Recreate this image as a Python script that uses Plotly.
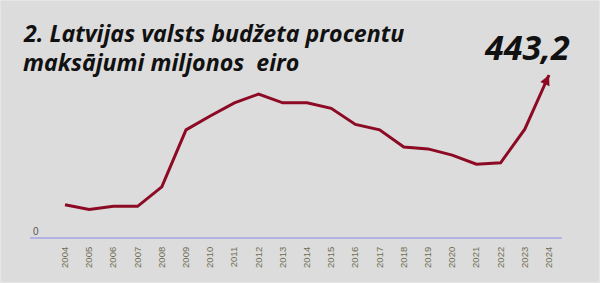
import plotly.graph_objects as go

years = list(range(2004, 2025))
values = [88, 75, 84, 84, 137, 293, 331, 367, 391, 367, 367, 352, 308, 293, 246, 241, 224, 199, 203, 295, 443.2]
tick_labels = [str(y) for y in years]
title_line1 = "2. Latvijas valsts budžeta procentu"
title_line2 = "maksājumi miljonos  eiro"
last_label = "443,2"

line_color = "#8c0a24"
bg = "#dcdcdc"
W, H = 600, 283
ML, MR, MT, MB = 30, 38, 0, 46

fig = go.Figure()
fig.add_trace(go.Scatter(x=years, y=values, mode="lines",
                         line=dict(color=line_color, width=3), hoverinfo="skip"))

# arrowhead at the final point, along the last segment
fig.add_annotation(x=years[-1], y=values[-1], ax=years[-1] - 0.15,
                   ay=values[-1] - (values[-1] - values[-2]) * 0.15,
                   axref="x", ayref="y", xref="x", yref="y", text="",
                   showarrow=True, arrowhead=2, arrowsize=0.8, arrowwidth=2.5,
                   arrowcolor=line_color, standoff=0)

def px(xp, yp):
    return dict(xref="paper", yref="paper", x=(xp - ML) / (W - ML - MR), y=(H - MB - yp) / (H - MB - MT))

font_t = dict(family="Open Sans", size=23.2, color="#111111", weight=700, style="italic")
fig.add_annotation(**px(21, 33), text=title_line1, showarrow=False, xanchor="left", yanchor="middle",
                   font=font_t)
fig.add_annotation(**px(21, 62), text=title_line2, showarrow=False, xanchor="left", yanchor="middle",
                   font=font_t)
fig.add_annotation(**px(572, 47), text=last_label, showarrow=False, xanchor="right", yanchor="middle",
                   font=dict(family="Open Sans", size=34, color="#111111", weight=700, style="italic"))
fig.add_annotation(x=2002.6, y=0, xref="x", yref="y", text="0", showarrow=False,
                   xanchor="left", yanchor="bottom", yshift=-2,
                   font=dict(family="Liberation Sans", size=10, color="#555555"))

fig.update_layout(
    width=W, height=H, margin=dict(l=ML, r=MR, t=MT, b=MB),
    paper_bgcolor=bg, plot_bgcolor=bg, showlegend=False,
    xaxis=dict(range=[2002.554, 2024.537], tickmode="array", tickvals=years, ticktext=tick_labels,
               tickangle=-90, showgrid=False, zeroline=False, showline=True,
               linecolor="#b4b4e2", linewidth=2, ticks="", ticklabelstandoff=4,
               tickfont=dict(family="Liberation Sans", size=9.5, color="#6f6f52"),
               fixedrange=True),
    yaxis=dict(range=[0, 648.4], showgrid=False, zeroline=False, showticklabels=False,
               showline=False, fixedrange=True),
    shapes=[dict(type="rect", xref="paper", yref="paper", x0=-ML / 532, x1=(W - ML) / 532,
                 y0=-MB / 237, y1=1, line=dict(color="#e6e6e6", width=2), fillcolor="rgba(0,0,0,0)")],
)

fig.write_html("out.html", config={"displayModeBar": False})
